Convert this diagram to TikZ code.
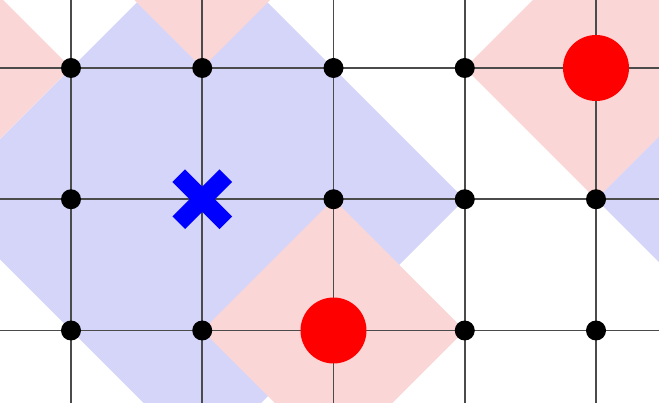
\documentclass[tikz,border=0pt]{standalone}
\definecolor{pinkfill}{RGB}{251,214,214}
\definecolor{bluefill}{RGB}{213,213,250}
\definecolor{gridc}{RGB}{75,75,75}
\tikzset{
  dot/.style={circle, fill=black, inner sep=0pt, minimum size=20pt},
  bigred/.style={circle, fill=red, inner sep=0pt, minimum size=66pt},
  gridline/.style={draw=gridc, line width=1.8pt},
  xarm/.style={draw=blue, line width=18pt, line cap=butt},
}
\begin{document}
\begin{tikzpicture}[x=1pt,y=-1pt]
\useasboundingbox (0,0) rectangle (659,403);
\clip (0,0) rectangle (659,403);
\def\s{131.25}
% blue diamonds (radius 2 grid steps)
\fill[bluefill] (202.25,-62.75) -- (464.75,199.25) -- (202.25,461.75) -- (-60.25,199.25) -- cycle;
\fill[bluefill] (858.5,-62.75) -- (1121,199.25) -- (858.5,461.75) -- (596,199.25) -- cycle;
% pink diamonds (radius 1 grid step)
\foreach \cx/\cy in {-60.25/68, 202.25/-63.25, 596/68, 333.5/330.5}{
  \fill[pinkfill] (\cx,\cy-\s) -- (\cx+\s,\cy) -- (\cx,\cy+\s) -- (\cx-\s,\cy) -- cycle;
}
% grid
\foreach \x in {71,202.25,333.5,464.75,596}{
  \draw[gridline] (\x,0) -- (\x,403);
}
\foreach \y in {68,199.25,330.5}{
  \draw[gridline] (0,\y) -- (659,\y);
}
% dots
\node[dot] (d11) at (71,68) {};
\node[dot] (d12) at (202.25,68) {};
\node[dot] (d13) at (333.5,68) {};
\node[dot] (d14) at (464.75,68) {};
\node[dot] (d21) at (71,199.25) {};
\node[dot] (d23) at (333.5,199.25) {};
\node[dot] (d24) at (464.75,199.25) {};
\node[dot] (d25) at (596,199.25) {};
\node[dot] (d31) at (71,330.5) {};
\node[dot] (d32) at (202.25,330.5) {};
\node[dot] (d34) at (464.75,330.5) {};
\node[dot] (d35) at (596,330.5) {};
% red circles
\node[bigred] (r1) at (596,68) {};
\node[bigred] (r2) at (333.5,330.5) {};
% blue cross
\coordinate (xc) at (202.25,199.25);
\draw[xarm] ([shift={(-23.5,-23.5)}]xc) -- ([shift={(23.5,23.5)}]xc);
\draw[xarm] ([shift={(-23.5,23.5)}]xc) -- ([shift={(23.5,-23.5)}]xc);
\end{tikzpicture}
\end{document}
